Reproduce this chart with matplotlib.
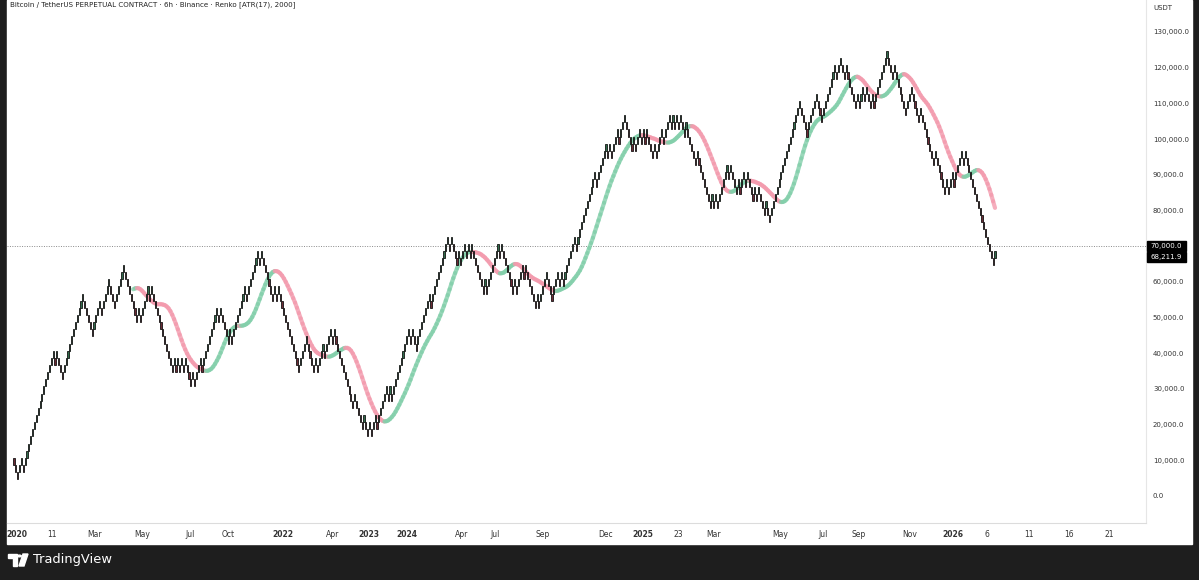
import numpy as np
import matplotlib.pyplot as plt
from matplotlib.collections import LineCollection
from matplotlib.patches import Rectangle, Polygon, Circle

# Renko box size and the brick-close turning points (USDT)
BOX = 2000
PIVOTS = [
    # 2020 - 2021 top
    8700, 4700, 10700, 6700, 40700, 36700, 40700, 32700, 56700, 44700, 54700,
    50700, 60700, 52700, 64700,
    # 2021 swings
    48700, 52700, 48700, 58700, 54700, 58700, 34700, 38700, 34700, 38700, 34700,
    38700, 34700, 38700, 30700, 34700, 30700, 38700, 34700, 52700, 48700, 52700,
    42700, 46700, 42700, 58700, 54700, 68700, 64700, 68700,
    # 2022 bear
    54700, 58700, 54700, 58700, 34700, 44700, 34700, 38700, 34700, 42700, 38700,
    46700, 42700, 46700, 24700, 28700, 24700, 18700, 22700, 16700, 20700, 16700,
    # 2023 recovery
    22700, 18700, 30700, 26700, 30700, 26700, 46700, 42700, 46700, 40700, 56700,
    52700, 72700,
    # 2024 range
    68700, 72700, 64700, 68700, 64700, 70700, 66700, 70700, 66700, 70700, 56700,
    60700, 56700, 70700, 66700, 70700, 56700, 60700, 56700, 64700, 60700, 64700,
    52700, 56700, 52700, 62700, 54700, 62700, 58700, 62700, 58700,
    # breakout
    72700, 68700, 72700, 90700, 86700, 90700, 98700, 94700, 98700, 94700, 102700,
    98700, 106700,
    # 2025 first half
    96700, 100700, 96700, 102700, 98700, 102700, 98700, 102700, 94700, 98700,
    94700, 102700, 98700, 106700, 102700, 106700, 102700, 106700, 102700, 106700,
    100700, 104700, 92700, 96700, 92700, 80700, 84700, 80700, 84700, 80700, 92700,
    88700, 92700, 84700, 88700, 84700, 90700, 86700, 90700, 82700, 86700, 82700,
    86700, 78700, 82700, 76700,
    # 2025 second half
    110700, 100700, 112700, 104700, 120700, 116700, 122700, 116700, 120700, 116700,
    108700, 112700, 108700, 114700, 110700, 114700, 108700, 112700, 108700, 124700,
    # sell-off
    116700, 120700, 106700, 114700, 104700, 108700, 104700, 92700, 96700, 84700,
    88700, 84700, 90700, 86700, 96700, 92700, 96700, 64700, 68700,
]
LAST_PRICE = 68211.9
LINE_PRICE = 70000
MA_LEN = 10

Y_TICKS = list(range(0, 130001, 10000))
X_LABELS = ['2020', '11', 'Mar', 'May', 'Jul', 'Oct', '2022', 'Apr', '2023', '2024',
            'Apr', 'Jul', 'Sep', 'Dec', '2025', '23', 'Mar', 'May', 'Jul', 'Sep',
            'Nov', '2026', '6', '11', '16', '21']
# label centres along the time axis (screen px of the reference)
X_LABEL_PX = [17, 52, 95, 142, 190, 228, 283, 333, 369, 407, 462, 495, 543, 606,
              643, 678, 714, 780, 823, 859, 910, 953, 987, 1029, 1069, 1109]

W, H = 1199, 580


def build_bricks(pivots, box):
    opens = [pivots[0] + box]
    closes = [pivots[0]]
    for t in pivots[1:]:
        up = t > closes[-1]
        while True:
            o, c = opens[-1], closes[-1]
            last_up = c > o
            if up:
                base = c if last_up else o
                nc = base + box
                if nc > t + box / 2:
                    break
            else:
                base = o if last_up else c
                nc = base - box
                if nc < t - box / 2:
                    break
            opens.append(base)
            closes.append(nc)
    return np.array(opens, float), np.array(closes, float)


def sma(v, k):
    out = np.full(len(v), np.nan)
    out[k - 1:] = np.convolve(v, np.ones(k) / k, mode='valid')
    return out


opens, closes = build_bricks(PIVOTS, BOX)
n = len(closes)
idx = np.arange(n)

# screen mapping: first brick at px 14, last brick at px 995
x0_px, x1_px = 14, 995
bw = (x1_px - x0_px) / (n - 1)
ax_left_px, ax_right_px, ax_bottom_px = 7, 1146, 523

fig = plt.figure(figsize=(W / 100, H / 100), dpi=100)
fig.patch.set_facecolor('#1e1e1e')
fig.patches.append(Rectangle((7 / W, 1 - 544 / H), (1192 - 7) / W, 544 / H,
                             transform=fig.transFigure, color='white', zorder=-10))

ax = fig.add_axes([ax_left_px / W, 1 - ax_bottom_px / H,
                   (ax_right_px - ax_left_px) / W, ax_bottom_px / H])
ax.set_facecolor('white')
ax.set_xlim((ax_left_px - x0_px) / bw, (ax_right_px - x0_px) / bw)
ax.set_ylim(-7565, 138965)

# bricks
up = closes > opens
colors = np.where(up, '#2f6b4a', '#6b2a35')
ax.bar(idx, BOX, bottom=np.minimum(opens, closes), width=0.6,
       color=colors, edgecolor='#141414', linewidth=0.6, zorder=3)

# smoothed moving average coloured by slope
ma = sma(np.nan_to_num(sma(closes, MA_LEN), nan=closes[0]), MA_LEN)
start = int(round((133 - x0_px) / bw))
mx, my = idx[start:], ma[start:]
pts = np.column_stack([mx, my]).reshape(-1, 1, 2)
segs = np.concatenate([pts[:-1], pts[1:]], axis=1)
seg_cols = ['#82cfaa' if b > a else '#f39aad' for a, b in zip(my[:-1], my[1:])]
lc = LineCollection(segs, colors=seg_cols, linewidths=3.0, alpha=0.8,
                    capstyle='round', zorder=2)
ax.add_collection(lc)

ax.axhline(LINE_PRICE, color='#8a8a8a', lw=0.7, ls=(0, (1, 1.5)), zorder=1)

# axes styling
for s in ['top', 'left']:
    ax.spines[s].set_visible(False)
ax.spines['right'].set_color('#e6e6e6')
ax.spines['bottom'].set_color('#dcdcdc')
ax.yaxis.tick_right()
ax.set_yticks(Y_TICKS)
ax.set_yticklabels([f'{v:,.1f}' for v in Y_TICKS])
ax.tick_params(axis='y', length=0, pad=5, labelsize=5.0, colors='#333333')
ax.set_xticks([(p - x0_px) / bw for p in X_LABEL_PX])
ax.set_xticklabels(X_LABELS)
ax.tick_params(axis='x', length=0, pad=5, labelsize=5.5, colors='#333333')
for lab in ax.get_xticklabels():
    if lab.get_text().isdigit() and len(lab.get_text()) == 4:
        lab.set_fontweight('bold')

# price boxes on the scale
for price, top_px in [(LINE_PRICE, 241), (LAST_PRICE, 252)]:
    fig.patches.append(Rectangle((1147 / W, 1 - (top_px + 10) / H), 39 / W, 10 / H,
                                 transform=fig.transFigure, color='black'))
    fig.text(1166.5 / W, 1 - (top_px + 5) / H, f'{price:,.1f}', fontsize=5.0,
             color='white', va='center', ha='center')

fig.text(1153 / W, 1 - 8 / H, 'USDT', fontsize=5, color='#333333', va='center')
fig.text(10 / W, 1 - 5 / H,
         'Bitcoin / TetherUS PERPETUAL CONTRACT · 6h · Binance · Renko [ATR(17), 2000]',
         fontsize=5.1, color='#222222', va='center', ha='left')

# TradingView badge
fig.patches.append(Polygon([(8 / W, 1 - 554 / H), (17 / W, 1 - 554 / H),
                            (17 / W, 1 - 566 / H), (13 / W, 1 - 566 / H),
                            (13 / W, 1 - 558 / H), (8 / W, 1 - 558 / H)],
                           closed=True, transform=fig.transFigure, color='white'))
fig.patches.append(Circle((19.5 / W, 1 - 556 / H), 1.8 / W, transform=fig.transFigure,
                          color='white'))
fig.patches.append(Polygon([(23 / W, 1 - 554 / H), (28 / W, 1 - 554 / H),
                            (24 / W, 1 - 566 / H), (19 / W, 1 - 566 / H)],
                           closed=True, transform=fig.transFigure, color='white'))
fig.text(33 / W, 1 - 560 / H, 'TradingView', fontsize=9.4, color='white',
         va='center', ha='left')

fig.savefig('out.png', dpi=100, facecolor=fig.get_facecolor())
